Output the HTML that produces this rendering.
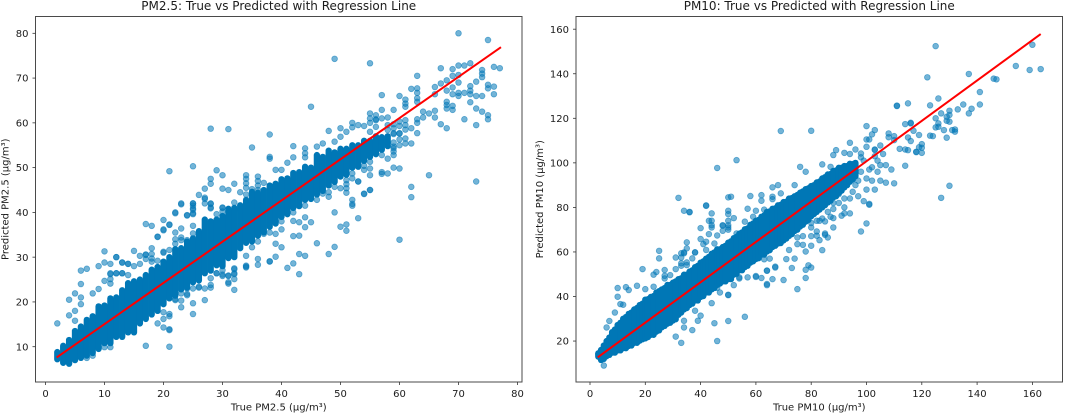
<!DOCTYPE html>
<html lang="en">
<head>
<meta charset="utf-8">
<title>True vs Predicted with Regression Line</title>
<style>
html,body{margin:0;padding:0;background:#fff;}
svg{display:block;}
text{font-family:"DejaVu Sans","Liberation Sans",sans-serif;fill:#1c1c1c;}
</style>
</head>
<body>
<svg id="figure" width="1065" height="414" viewBox="0 0 1065 414" xmlns="http://www.w3.org/2000/svg"></svg>
<script>
// ---------- PM2.5 panel data ----------
const pm25XTicks = [0,10,20,30,40,50,60,70,80];
const pm25YTicks = [10,20,30,40,50,60,70,80];
const pm25LineTrue = [1.9,77.2];
const pm25LinePred = [7.6,76.9];
const pm25BandTrue = [2,3,4,5,6,7,8,9,10,11,12,13,14,15,16,17,18,19,20,21,22,23,24,25,26,27,28,29,30,31,32,33,34,35,36,37,38,39,40,41,42,43,44,45,46,47,48,49,50,51,52,53,54,55,56,57,58];
const pm25BandLow = [7.2,6.4,6.2,7,7.5,8,8.6,9.5,10.8,10.8,12.2,12.2,13.2,13.2,15.2,16.2,17.2,18,19.5,20.8,21.4,22.8,23.2,24.4,24.8,26.4,27,28.2,28,29.8,30,32,33.2,33.5,34.8,35.5,36.8,37.5,39,39.6,41,41.4,42.8,43,44,44.8,46,46.8,48,48.4,50,50.2,51.5,52.4,53,54,54.8];
const pm25BandHigh = [8.8,10.2,11.5,13.5,14.5,16,16.8,19,19.2,20.8,21,22.6,24.2,24.6,25,26,27.2,27.8,29,30,31.8,32,33.5,34.2,35.8,38.4,38,38.4,39.2,40.8,41,41.6,42.8,44.6,44.4,45,46,46.4,47.4,47.6,48.8,49,50.2,50,52.8,52.4,53.8,53.4,54.2,54.2,55,55,56,56,57,56.8,57];
const pm25Points = [
[28,58.7],[31,58.6],[35,54.5],[38,57.4],[21,49.2],[25,50.3],[29,49.4],[28,47.5],[28,46.4],[30,48.3],[27,45.3],[26,43.9],[30,45.3],[31,45],[32,46.4],[34,48.3],[34,47.5],[34,46.5],[34,45.5],[36,48],[36,47],[36,46],[36,45],[33,44.5],[34,44],[23,41.8],[25,42],[27,43],[27,42],[28,41.9],[30,41.1],[38,52.4],[38,52],[37,46.6],[35,45.2],
[70,80],[75,78.5],[49,74.3],[55,73.3],[77,72.2],[76,72.5],[72,73.3],[71,72.8],[70,72.8],[69,72],[67,72.2],[63,70.5],[74,71.8],[74,71],[74,70.2],[73,69.2],[70,70.7],[70,69],[69,70.5],[68,69.5],[67,68.8],[66,68],[66,66.4],[75,68.5],[75,67.7],[76,68.1],[76,66.4],[74,66],[73,66],[72,68.2],[72,67.2],[72,66.4],[72,64.6],[71,66.7],[70,66.7],[70,66],[69,67.9],[69,66.4],[68,67.2],[62,67.6],[63,67.7],[63,66.7],[63,65.5],[63,64.7],[57,66.2],[60,66],[61,65.2],[61,64.3],[61,63.6],[45,63.6],[68,64.7],[68,64],[68,63.2],[69,63.8],[69,62.9],[73,63.2],[74,62.5],[75,61.7],[75,60.8],[71,60.8],[73,59.5],[67,59.7],[68,58.8],[66,62.7],[66,61.2],[65,62.1],[64,62.5],[64,61.2],[63,60.8],[63,60],[63,57.7],[62,58.8],[61,60.6],[61,59.5],[61,58.5],[61,55.4],[62,55.4],[59,62.9],[58,61.2],[57,62.9],[56,61.7],[56,60.8],[55,62.1],[55,61],[55,60],[52,60],[53,59.5],[54,59.3],[50,58.8],[48,58.2],[51,58],[60,60.3],[60,59.3],[60,57.6],[59,59.7],[59,57.5],[59,50],[60,49.8],[57,49],[57,48.6],[58,48.7],[65,48.3],[73,46.9],[62,45.7],[62,43.4],[55,45],[54,44.1],[53,46.9],[52,42.8],[52,41.9],[51,44.4],[59,54.3],[59,52.8],[42,54.8],[42,52.3],[41,51.1],[40,49.5],[39,49.5],[44,54.3],[44,53.2],[44,52.3],
[49,40],[52,41.5],[53,38.7],[45,37.8],[44,38.9],[44,36.7],[43,37.8],[43,34.8],[42,38.1],[42,34.7],[50,36.8],[51,37.3],[51,35.9],[60,33.9],[46,33.1],[49,32.3],[48,30.7],[44,30.3],[43,30.7],[39,30.1],[40,32.2],[39,33],[38,29],[42,28.6],[41,27.6],[43,26.2],[40,36.2],[39,35.2],
[2,15.2],[6,24],[6,27],[7,27.4],[4,20.5],[4,17],[5,21.9],[5,18],[5,15.8],[6,21],[6,19.5],[8,21.9],[9,22.9],[9,28],[10,28.8],[10,31.3],[11,28.5],[12,30],[13,28.8],[14,28.5],[15,31.4],[15,28],[16,28.5],[17,30.5],[17,29.6],[18,32],[18,30.7],[10,24.7],[11,26.2],[11,25.1],[12,26.4],[13,26.4],[14,26],[17,37.4],[18,37],[19,34.5],[20,36],[20,38.3],[21,37.3],[22,39.8],[23,36.4],[23,34.4],[20,31],[21,31.6],[22,34],[24,39.3],[25,41.5],[25,40.6],[25,39.6],[25,37],[28,41.1],[30,41],
[17,10.2],[21,10],[11,9.9],[21,17.3],[21,16.8],[21,13.7],[21,13.9],[20,16.2],[20,14.3],[20,17.7],[19,15.2],[19,19.2],[22,20.6],[23,20.3],[23,18.8],[25,19.7],[25,17.3],[27,20.4],[24,21.8],[26,23.2],[28,23.2],[29,26.4],[30,26.1],[31,25.9],[31,24.4],[32,22.7],[32,27.3],[32,26.2],[34,30.3],[34,28.1],[34,27.7],[36,29.6],[36,28.3],[38,29.1],[35,32.2],[37,35.2],[32,25.1],[10,9.9],[7,7.5],[8,8],
[12,30],[13,28.8],[14,28.5],[16,30.3],[17,30.6],[18,29.7],[18,29],[19,29.2],[20,31.2],[22,33],[23,33.8],[24,33.8],[25,35.3],[24,39.4],[25,42],[25,40.9],[25,39.8],[22,35.5],[21,37.2],[20,36.2],[19,34.6],[23,42],[22,40],[27,43.3],[28,42],[28,40.9],[29,39.6],[30,40.2],[31,39.4],[32,42.2],[33,40.5],
[31,25.8],[31,24.1],[32,27.5],[32,26.4],[34,27.9],[30,27.1],[30,25.8],[29,26.4],[28,25.3],[28,23.8],[27,23],[26,23.4],[25,23],[24,23],[24,21.5],[23,21.9],[22,20.4],[11,26.4],[11,24.1],[12,26.4],[13,26.4],
[54,50.4],[54,49.5],[55,51.3],[57,52.8],[58,52],[59,54.7],[59,53.6],[60,55],[51,47.2],[51,46.3],[51,45.4],[50,45.4],[49,45.7],[52,48.7],[52,47.6],[48,43.5],[47,44.2],[55,49.8],[55,48.3],[54,44.2],[55,45],[53,46.9],[46,54.7],[47,55.4],[49,55.8],[50,56.9],[52,59],[55,58],[56,60.6],[56,59.1],[57,61],[58,59.5],[58,58.4],[59,58.8],[59,57.7],[60,57.7],[60,56.3],[61,56.5],[59,55.6],[58,55.5],[56,56],[48,44.5],[46,42.8],[44,41.5],[42,40],[40,38],[38,35.5],[36,33.5]
];

// ---------- PM10 panel data ----------
const pm10XTicks = [0,20,40,60,80,100,120,140,160];
const pm10YTicks = [20,40,60,80,100,120,140,160];
const pm10LineTrue = [2.8,163];
const pm10LinePred = [12.7,157.8];
const pm10BandTrue = [3,4,5,6,7,8,9,10,11,12,13,14,15,16,17,18,19,20,21,22,23,24,25,26,27,28,29,30,31,32,33,34,35,36,37,38,39,40,41,42,43,44,45,46,47,48,49,50,51,52,53,54,55,56,57,58,59,60,61,62,63,64,65,66,67,68,69,70,71,72,73,74,75,76,77,78,79,80,81,82,83,84,85,86,87,88,89,90,91,92,93,94,95,96];
const pm10BandLow = [13,11.5,12,13.2,13.8,14.8,14.8,15.8,15.8,16.8,
16.8,17.8,18,19.2,19.2,20.2,20.8,21.2,21.8,22.8,
22.8,24.2,24.8,26.2,26.8,27.8,28.2,29.2,29.8,31.8,
32.8,34.2,34.8,36.2,36.8,38.2,38.2,39.8,40.2,41.8,
41.8,43.2,43.8,45.2,45.8,46.8,46.8,47.8,47.8,49.8,
50.2,51.8,51.8,53.2,53.8,55.2,55.8,56.8,57.2,58.8,
58.8,60.2,60.8,62.2,62.8,63.8,64,65.2,66,67.2,
68,69.4,70,71.4,72.2,73.6,74.4,76,77,78,
79,80,81,82.2,83,84.5,85,86.5,87.5,89,
90,91.5,92.5,94];
const pm10BandHigh = [14.5,16,18,20,21.6,24,25.2,27.2,28.2,30,
30.8,32.2,32.8,34.2,34.8,36.2,36.8,38.6,38.8,39.8,
40.2,41.8,42.4,43.2,43.8,45.2,45.2,46.2,46.8,47.8,
48.2,49.8,49.8,51.2,51.8,53.2,53.8,55.2,55.8,57,
57.8,59.2,59.8,61.2,61.2,62.2,62.8,64.2,64.8,66.2,
66.8,68.2,68.8,70.2,70.6,72.2,72.8,74,74.4,75.8,
76.4,78,78.2,79.4,79.6,80.8,81.2,82.4,82.6,84,
84.2,85,85.6,86.6,87.2,88.2,88.6,89.6,90,91.2,
91.6,93,93.6,94.8,95,96.4,96.6,97.8,97.8,98.6,
98.6,99.6,99.4,100];
const pm10Points = [
[69,114.3],[76,98.2],[53,101.2],[46,97.7],[32,84.3],[50,84.5],[51,84.8],[58,85.1],[62,85.5],[62,83],[66,89],[66,84.8],[66,83.7],[68,90],[69,86.3],[74,90],[42,80.9],[34,78.5],[36,78],[50,78.5],[57,79.4],[60,78.5],[63,79],
[125,152.4],[122,138.4],[137,139.9],[160,153],[154,143.5],[159,141.7],[163,142.1],[146,137.8],[147,137.5],[141,131.8],[141,126.2],[126,128.9],[115,126.7],[111,125.5],[123,125.8],[135,126.2],[133,124],[138,124.3],[137,122.2],[130,123.4],[130,121.5],[127,122.2],[125,120],[129,120.7],[129,118.9],[126,117.7],[130,118.5],[126,116.2],[125,115.9],[128,114.7],[131,114.7],[132,114],[132,115],[123,112.2],[124,112],[129,111.3],[116,118],[114,117.4],[100,116.5],[103,114.7],[80,114.4],[102,112.8],[108,113.2],[110,112],[108,111.5],[119,112.5],[117,114.4],[115,111.4],[116,109.8],[120,108.4],[119,107],[118,104.8],[120,104.5],[114,106],[115,105.7],[112,106.3],[110,110.2],[101,110.5],[100,110.5],[94,109],[105,107.8],[103,106],[100,107.2],[89,105.7],[88,103.5],[94,104],[98,104.2],[110,90.8],[107,91.1],[114,98.7],[130,89.7],[127,84.3],[99,82.8],[101,81.6],[78,96],[84,99.3],[87,98.2],
[101,81.2],[100,72.8],[98,69.2],[94,77.3],[92,77.3],[91,76.3],[88,71],[88,75.2],[88,79.3],[85,73.7],[86,66.5],[85,67.7],[84,60.8],[83,65.3],[82,69.2],[82,67.3],[80,67.1],[80,62.8],[78,60.2],[77,67.1],[77,63.2],[75,63.5],[79,54],[80,53],[78,52],[78,48.3],[75,43.3],[74,57],
[5,9],[3,14.1],[6,26.1],[7,29],[9,32.8],[10,43.8],[10,39.9],[13,44.2],[14,42.9],[17,44.8],[11,36.6],[12,36.3],[19,52.3],[23,49.8],[24,51],[27,51.9],[27,49.3],[25,60.5],[25,57.1],[31,57.5],[34,59.8],[35,64.3],[36,77.8],[38,59.8],[33,57.5],[33,53.8],[35,55.3],[31,52.3],[40,70.7],[40,65.8],[41,63.5],[43,68],[44,77.3],[44,74],[44,71],[42,80.7],[50,77],[50,74],[50,71],[48,71.8],[48,69.5],[52,75.2],[46,67.4],
[31,22],[33,19.2],[37,24.9],[34,26.1],[45,28],[50,29],[56,30.9],[46,20],[40,31.4],[39,29.1],[38,33.6],[34,29.1],[50,40.8],[47,41.8],[44,37],[54,48.6],[57,48.6],[60,48.8],[62,48.3],[64,45.6],[66,47.8],[70,47.4],[67,53.4],[64,51.6],[73,52.8],[71,56.8],[72,60.9],
[59,75.8],[83,74],[87,75.8],[80,71],[85,68.3],[75,66.5],[103,105.8],[118,105],[120,106.8],[116,117.7],[111,125.7],[96,106],[92,104.5],[106,104],[104,101],[102,98],[107,99],[109,97],[104,96],[100,93],[97,92],[95,87],[103,88],[90,82],[92,80],
[44,72],[43,74],[48,72],[50,72],[50,70],[53,68.3],[56,73.6],[66,77.3],[68,81],[42,64.6],[45,63.8],[35,61.6],[34,59.4],[33,59.4],[33,54.9],[38,59.8],[37,57.1],[35,54.1],[42,60.9],[20,43.3],[23,44.4],[27,48.1],[29,49.6],[50,40.6],[46,43.9],[52,45.1],[54,48.1],[60,49.2],[63,56.7],[65,57],[64,51.6],[64,45.1],[67,53],
[98,102.5],[99,101],[101,97],[103,103],[105,99],[96,90],[98,96],[94,84],[97,85],[102,92],[105,92],[100,88],[92,84],[90,86],[88,82],[84,75],[86,78],[82,74],[80,73]
];

// ---------- axis functions ----------
const svg = document.getElementById('figure');
const NS = 'http://www.w3.org/2000/svg';
const BLUE = '#0077b6';

function xScaleLeft(v){ return 45.5 + 5.9 * v; }
function yScaleLeft(v){ return 391.47 - 4.477 * v; }
function xScaleRight(v){ return 590 + 2.765 * v; }
function yScaleRight(v){ return 385.6 - 2.2275 * v; }

function make(parent, tag, attrs, txt){
  const el = document.createElementNS(NS, tag);
  for (const k in attrs) el.setAttribute(k, attrs[k]);
  if (txt !== undefined) el.textContent = txt;
  parent.appendChild(el);
  return el;
}

function drawPanel(prefix, box, xs, ys, xTicks, yTicks, points, bandT, bandL, bandH, lineT, lineP, title, xTitle, yTitle, yTitleX){
  const g = make(svg, 'g', {});
  
  

  // individual scatter points
  points.forEach(function(p){
    const c = make(g, 'circle', {cx:xs(p[0]), cy:ys(p[1]), r:2.85, fill:BLUE, 'fill-opacity':0.55, stroke:BLUE, 'stroke-opacity':0.55, 'stroke-width':0.8});
    
    
  });

  // dense core: overlapped markers spanning low..high for each true value
  bandT.forEach(function(t, i){
    const s = make(g, 'line', {x1:xs(t), x2:xs(t), y1:ys(bandL[i]), y2:ys(bandH[i]), stroke:BLUE, 'stroke-width':6.3, 'stroke-linecap':'round'});
    
    
  });

  // regression line
  const reg = make(g, 'line', {x1:xs(lineT[0]), y1:ys(lineP[0]), x2:xs(lineT[1]), y2:ys(lineP[1]), stroke:'#ff0000', 'stroke-width':2});
  
  

  // spines
  const frame = make(g, 'rect', {x:box.l, y:box.t, width:box.r-box.l, height:box.b-box.t, fill:'none', stroke:'#4a4a4a', 'stroke-width':1});
  
  

  // x ticks
  xTicks.forEach(function(v){
    const t = make(g, 'line', {x1:xs(v), x2:xs(v), y1:box.b, y2:box.b+3, stroke:'#333', 'stroke-width':0.8});
    
    
    const l = make(g, 'text', {x:xs(v), y:box.b+14.8, 'text-anchor':'middle', 'font-size':10}, String(v));
    
    
  });

  // y ticks
  yTicks.forEach(function(v){
    const t = make(g, 'line', {x1:box.l-3, x2:box.l, y1:ys(v), y2:ys(v), stroke:'#333', 'stroke-width':0.8});
    
    
    const l = make(g, 'text', {x:box.l-7, y:ys(v)+3.6, 'text-anchor':'end', 'font-size':10}, String(v));
    
    
  });

  // titles
  const tt = make(g, 'text', {x:(box.l+box.r)/2, y:10, 'text-anchor':'middle', 'font-size':12}, title);
  
  

  const xt = make(g, 'text', {x:(box.l+box.r)/2, y:410.5, 'text-anchor':'middle', 'font-size':10}, xTitle);
  
  

  const yc = (box.t+box.b)/2;
  const yt = make(g, 'text', {x:yTitleX, y:yc, 'text-anchor':'middle', 'font-size':10, transform:'rotate(-90 '+yTitleX+' '+yc+')'}, yTitle);
  
  
}

drawPanel('pm25', {l:35.5,r:522,t:16.5,b:382}, xScaleLeft, yScaleLeft, pm25XTicks, pm25YTicks, pm25Points, pm25BandTrue, pm25BandLow, pm25BandHigh, pm25LineTrue, pm25LinePred,
  'PM2.5: True vs Predicted with Regression Line', 'True PM2.5 (µg/m³)', 'Predicted PM2.5 (µg/m³)', 8.5);
drawPanel('pm10', {l:576,r:1062.5,t:16.5,b:382}, xScaleRight, yScaleRight, pm10XTicks, pm10YTicks, pm10Points, pm10BandTrue, pm10BandLow, pm10BandHigh, pm10LineTrue, pm10LinePred,
  'PM10: True vs Predicted with Regression Line', 'True PM10 (µg/m³)', 'Predicted PM10 (µg/m³)', 543);
</script>
</body>
</html>
